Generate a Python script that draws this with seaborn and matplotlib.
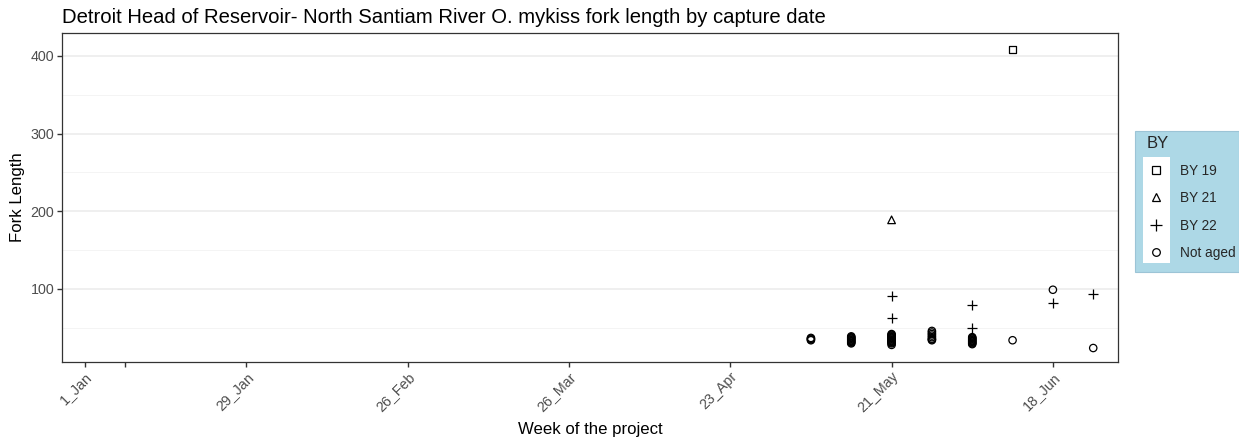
import numpy as np
import pandas as pd
import matplotlib
matplotlib.use("Agg")
import matplotlib.pyplot as plt
import matplotlib.dates as mdates
from matplotlib.patches import Rectangle
from matplotlib.lines import Line2D
from matplotlib.ticker import MultipleLocator
import seaborn as sns

# ---------------- data ----------------
by19_dates = ["2023-06-11"]
by19_len = [408]

by21_dates = ["2023-05-21"]
by21_len = [189]

by22_dates = ["2023-05-21", "2023-05-21", "2023-06-04", "2023-06-04", "2023-06-18", "2023-06-25"]
by22_len = [91, 62, 80, 50, 82, 93]

na_may07 = [34, 35, 36, 37]
na_may14 = [30, 31, 32, 33, 34, 35, 36, 37, 38, 39]
na_may21 = [28, 30, 31, 32, 33, 34, 35, 36, 37, 38, 39, 40, 41, 42]
na_may28 = [34, 35, 36, 38, 40, 42, 44, 46]
na_jun04 = [29, 30, 31, 32, 33, 34, 35, 36, 37, 38]
na_jun11 = [34]
na_jun18 = [99]
na_jun25 = [24]

tick_dates = ["2023-01-01", "2023-01-08", "2023-01-29", "2023-02-26",
              "2023-03-26", "2023-04-23", "2023-05-21", "2023-06-18"]
tick_labels = ["1_Jan", "", "29_Jan", "26_Feb", "26_Mar", "23_Apr", "21_May", "18_Jun"]

by_levels = ["BY 19", "BY 21", "BY 22", "Not aged"]

# ---------------- build table ----------------
rows = []
for d, v in zip(by19_dates, by19_len):
    rows.append((d, v, "BY 19"))
for d, v in zip(by21_dates, by21_len):
    rows.append((d, v, "BY 21"))
for d, v in zip(by22_dates, by22_len):
    rows.append((d, v, "BY 22"))
for d, vals in [("2023-05-07", na_may07), ("2023-05-14", na_may14),
                ("2023-05-21", na_may21), ("2023-05-28", na_may28),
                ("2023-06-04", na_jun04), ("2023-06-11", na_jun11),
                ("2023-06-18", na_jun18), ("2023-06-25", na_jun25)]:
    for v in vals:
        rows.append((d, v, "Not aged"))
df = pd.DataFrame(rows, columns=["date", "FL", "BY"])
df["date"] = pd.to_datetime(df["date"])
df["x"] = mdates.date2num(df["date"])

# ---------------- style ----------------
sns.set_theme(style="white")
plt.rcParams["font.family"] = ["Liberation Sans", "DejaVu Sans"]

W, H = 1239, 437
fig = plt.figure(figsize=(W / 100, H / 100), dpi=100)
L, R, T, B = 62, 1118, 33, 362
ax = fig.add_axes([L / W, (H - B) / H, (R - L) / W, (B - T) / H])

marker_map = {"BY 19": "s", "BY 21": "^", "BY 22": "+", "Not aged": "o"}
size_map = {"BY 19": 26, "BY 21": 30, "BY 22": 60, "Not aged": 28}
for lev in by_levels:
    sub = df[df["BY"] == lev]
    if marker_map[lev] == "+":
        sns.scatterplot(data=sub, x="x", y="FL", marker="+", color="black",
                        s=size_map[lev], linewidth=0.9, legend=False, ax=ax, zorder=3)
    else:
        sns.scatterplot(data=sub, x="x", y="FL", marker=marker_map[lev],
                        facecolor="none", edgecolor="black",
                        s=size_map[lev], linewidth=0.9, legend=False, ax=ax, zorder=3)

# axes limits / ticks
jan1 = mdates.date2num(pd.Timestamp("2023-01-01"))
ax.set_xlim(jan1 - 3.99, jan1 + 179.3)
ax.set_ylim(6.0, 429.5)
ax.set_xticks(mdates.date2num(pd.to_datetime(tick_dates)))
ax.set_xticklabels(tick_labels, rotation=45, ha="right", rotation_mode="anchor")
ax.set_yticks([100, 200, 300, 400])
ax.yaxis.set_minor_locator(MultipleLocator(50))
ax.tick_params(axis="both", which="major", length=3.5, width=1, color="#333333",
               labelsize=10.3, labelcolor="#4D4D4D", pad=2, bottom=True, left=True)
ax.tick_params(axis="y", which="minor", length=0)
ax.grid(False)
ax.yaxis.grid(True, which="major", color="#EBEBEB", linewidth=1.1)
ax.yaxis.grid(True, which="minor", color="#F2F2F2", linewidth=0.6)
ax.set_axisbelow(True)
for sp in ax.spines.values():
    sp.set_color("#333333")
    sp.set_linewidth(0.9)

ax.set_xlabel("Week of the project", fontsize=12.1, color="black", labelpad=5)
ax.set_ylabel("Fork Length", fontsize=12.1, color="black", labelpad=4)
ax.set_title("Detroit Head of Reservoir- North Santiam River O. mykiss fork length by capture date",
             loc="left", fontsize=14.6, color="black", pad=7)

# ---------------- legend ----------------
def fx(px):
    return px / W

def fy(py):
    return (H - py) / H

fig.add_artist(Rectangle((fx(1135), fy(272)), fx(1239) - fx(1135), fy(131) - fy(272),
                         transform=fig.transFigure, facecolor="#ADD8E6",
                         edgecolor="#9CC4D6", linewidth=0.8, zorder=1))
fig.add_artist(Rectangle((fx(1143), fy(263)), fx(1170) - fx(1143), fy(157) - fy(263),
                         transform=fig.transFigure, facecolor="white",
                         edgecolor="none", zorder=2))

handles = [Line2D([], [], linestyle="none", marker=marker_map[k],
                  markersize=(8 if k == "BY 22" else 5.5),
                  markerfacecolor="none", markeredgecolor="black",
                  markeredgewidth=0.9) for k in by_levels]
leg = fig.legend(handles, by_levels, title="BY", loc="upper left",
                 bbox_to_anchor=(fx(1137), fy(126)), frameon=False,
                 fontsize=9.8, title_fontsize=12, handlelength=1.4,
                 handletextpad=1.05, labelspacing=0.98, borderpad=0.2,
                 alignment="left")
leg.set_zorder(5)

fig.savefig("out.png", dpi=100)
